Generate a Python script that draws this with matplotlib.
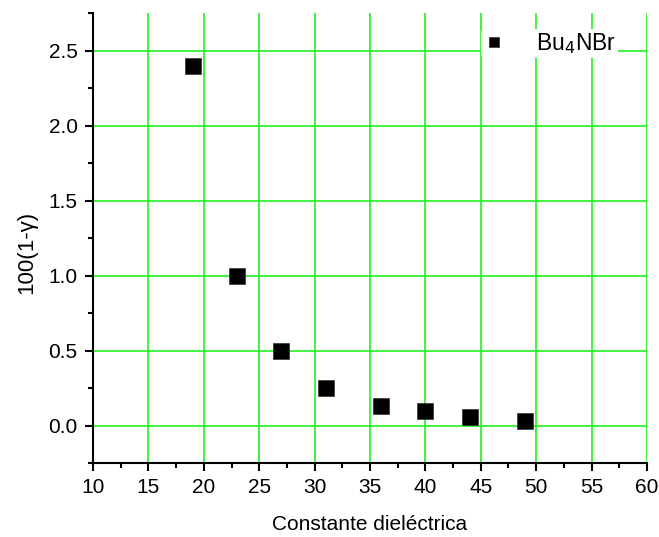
import numpy as np
import matplotlib.pyplot as plt
from matplotlib.ticker import MultipleLocator

plt.rcParams['font.family'] = ['Liberation Sans', 'DejaVu Sans']

# dielectric constant vs 100(1-gamma)
eps = [19, 23, 27, 31, 36, 40, 44, 49]
dev = [2.40, 1.00, 0.50, 0.25, 0.13, 0.10, 0.06, 0.03]

fig = plt.figure(figsize=(6.59, 5.37), dpi=100)
ax = fig.add_axes([93/659, 1 - 463/537, (647-93)/659, (463-13)/537])

ax.plot(eps, dev, 's', color='black', ms=12, mec='#333333', mew=0.5,
        label='Bu$_4$NBr', zorder=3)

ax.set_xlim(10, 60)
ax.set_ylim(-0.25, 2.75)
ax.xaxis.set_major_locator(MultipleLocator(5))
ax.xaxis.set_minor_locator(MultipleLocator(2.5))
ax.yaxis.set_minor_locator(MultipleLocator(0.25))
ax.set_yticks(np.arange(0, 2.51, 0.5))

ax.grid(True, which='major', color='#22f022', lw=1.2)
ax.set_axisbelow(True)

for s in ['top', 'right']:
    ax.spines[s].set_visible(False)
for s in ['left', 'bottom']:
    ax.spines[s].set_linewidth(1.5)
ax.tick_params(which='major', direction='out', length=6, width=1.5,
               labelsize=15, pad=5)
ax.tick_params(which='minor', direction='out', length=3.5, width=1.5)

ax.set_xlabel('Constante dieléctrica', fontsize=15, labelpad=13)
ax.set_ylabel('100(1-γ)', fontsize=16)
ax.yaxis.set_label_coords(-0.1, 0.467)

leg = ax.legend(loc='upper right', bbox_to_anchor=(0.968, 0.99), frameon=True,
                fontsize=16.5, markerscale=0.55, handletextpad=1.3,
                borderpad=0.1, handlelength=1.0)
leg.get_frame().set_edgecolor('none')
leg.get_frame().set_facecolor('white')
leg.get_frame().set_alpha(1)

fig.savefig('out.png', dpi=100)
